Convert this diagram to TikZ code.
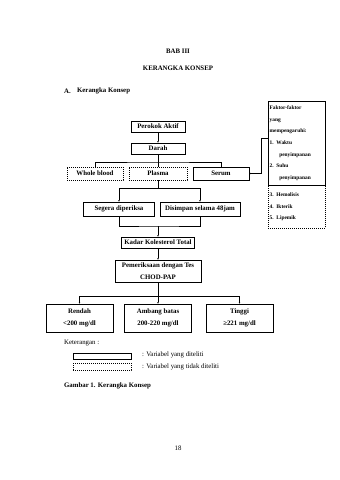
\documentclass[tikz,border=0pt]{standalone}
\usepackage{fontspec}
\setmainfont{Liberation Serif}
\usetikzlibrary{arrows.meta}
\def\pxu{1.756pt}
\begin{document}
\begin{tikzpicture}[x=1.756pt,y=-1.756pt,
  ln/.style={line width=0.45pt},
  bx/.style 2 args={draw, ln, minimum width=#1*\pxu, minimum height=#2*\pxu, inner sep=0pt, font=\fontsize{12}{20}\selectfont\bfseries, align=center},
  dsh/.style={line width=0.45pt, dash pattern=on 1.756pt off 1.756pt},
  arr/.style={ln, -{Latex[length=3pt,width=2.6pt]}},
  txt/.style={inner sep=0pt, font=\fontsize{12}{14}\selectfont},
  btxt/.style={inner sep=0pt, font=\fontsize{12}{14}\selectfont\bfseries},
  fkbox/.style={draw, ln, minimum width=57*\pxu, text width=54*\pxu, inner sep=0pt, align=left, font=\fontsize{9.5}{20.5}\selectfont\bfseries},
]
\useasboundingbox (0,0) rectangle (339,480);
% headings
\node[btxt] (bab) at (178,51) {BAB III};
\node[btxt] (judul) at (178,68) {KERANGKA KONSEP};
\node[btxt,anchor=west] (subA) at (64,91) {A.};
\node[btxt,anchor=west] (subAt) at (77,91) {Kerangka Konsep};
% boxes
\node[bx={54}{11}] (perokok) at (158,126.5) {Perokok Aktif};
\node[bx={54}{11}] (darah) at (158,148.5) {Darah};
\node[bx={56}{13},dsh] (whole) at (95,173.5) {Whole blood};
\node[bx={58}{13},dsh] (plasma) at (158,173.5) {Plasma};
\node[bx={56}{13}] (serum) at (221,173.5) {Serum};
\node[bx={71}{14}] (segera) at (119,209) {Segera diperiksa};
\node[bx={80}{14}] (disimpan) at (200,209) {Disimpan selama 48jam};
\node[bx={73}{11}] (kadar) at (158,242.5) {Kadar Kolesterol Total};
\node[bx={86}{22}] (pem) at (158,271) {Pemeriksaan dengan Tes\\CHOD-PAP};
\node[bx={67}{28}] (rendah) at (79.5,318) {Rendah\\<200 mg/dl};
\node[bx={67}{28}] (ambang) at (158,318) {Ambang batas\\200-220 mg/dl};
\node[bx={67}{28}] (tinggi) at (239.5,318) {Tinggi\\≥221 mg/dl};
% factors
\node[fkbox, minimum height=84*\pxu, anchor=north west] (faktor) at (268,101)
  {Faktor-faktor\\yang\\mempengaruhi:\\1. Waktu\\\hspace*{17pt}penyimpanan\\2. Suhu\\\hspace*{17pt}penyimpanan};
\node[fkbox, dsh, minimum height=43*\pxu, anchor=north] (faktorb) at (faktor.south)
  {3. Hemolisis\\4. Ikterik\\5. Lipemik};
% connectors
\draw[arr] (perokok) -- (darah);
\coordinate (j1) at (158,162);
\draw[ln] (darah.south) -- (j1);
\draw[ln] (whole.north) |- (j1) -| (serum.north);
\draw[ln] (plasma.north) -- (j1);
\coordinate (j2) at (158,188);
\draw[ln] (plasma.south) -- (j2);
\draw[arr] (j2) -| (segera.north);
\draw[arr] (j2) -| (disimpan.north);
\coordinate (j3) at (158,226);
\draw[ln] (segera.south) |- (j3) -| (disimpan.south);
\draw[arr] (j3) -- (kadar.north);
\draw[arr] (kadar.south) -- (pem.north);
\coordinate (j4) at (158,296);
\draw[ln] (pem.south) -- (j4);
\draw[arr] (j4) -| (rendah.north);
\draw[arr] (j4) -| (tinggi.north);
\draw[arr] (j4) -- (ambang.north);
\coordinate (fkbend) at (261,138);
\draw[arr] (fkbend -| faktor.west) -- (fkbend) |- (serum.east);
% legend
\node[txt,anchor=west] (ket) at (64,343) {Keterangan :};
\node[draw, ln, minimum width=58*\pxu, minimum height=6*\pxu, inner sep=0pt] (leg1) at (102,356) {};
\node[draw, dsh, minimum width=58*\pxu, minimum height=6.5*\pxu, inner sep=0pt] (leg2) at (102,366.5) {};
\node[txt,anchor=west] (leg1t) at (142,355) {: Variabel yang diteliti};
\node[txt,anchor=west] (leg2t) at (142,367) {: Variabel yang tidak diteliti};
\node[btxt,anchor=west] (cap) at (64,386) {Gambar 1. Kerangka Konsep};
\node[txt] (page) at (178,448) {18};
\end{tikzpicture}
\end{document}
